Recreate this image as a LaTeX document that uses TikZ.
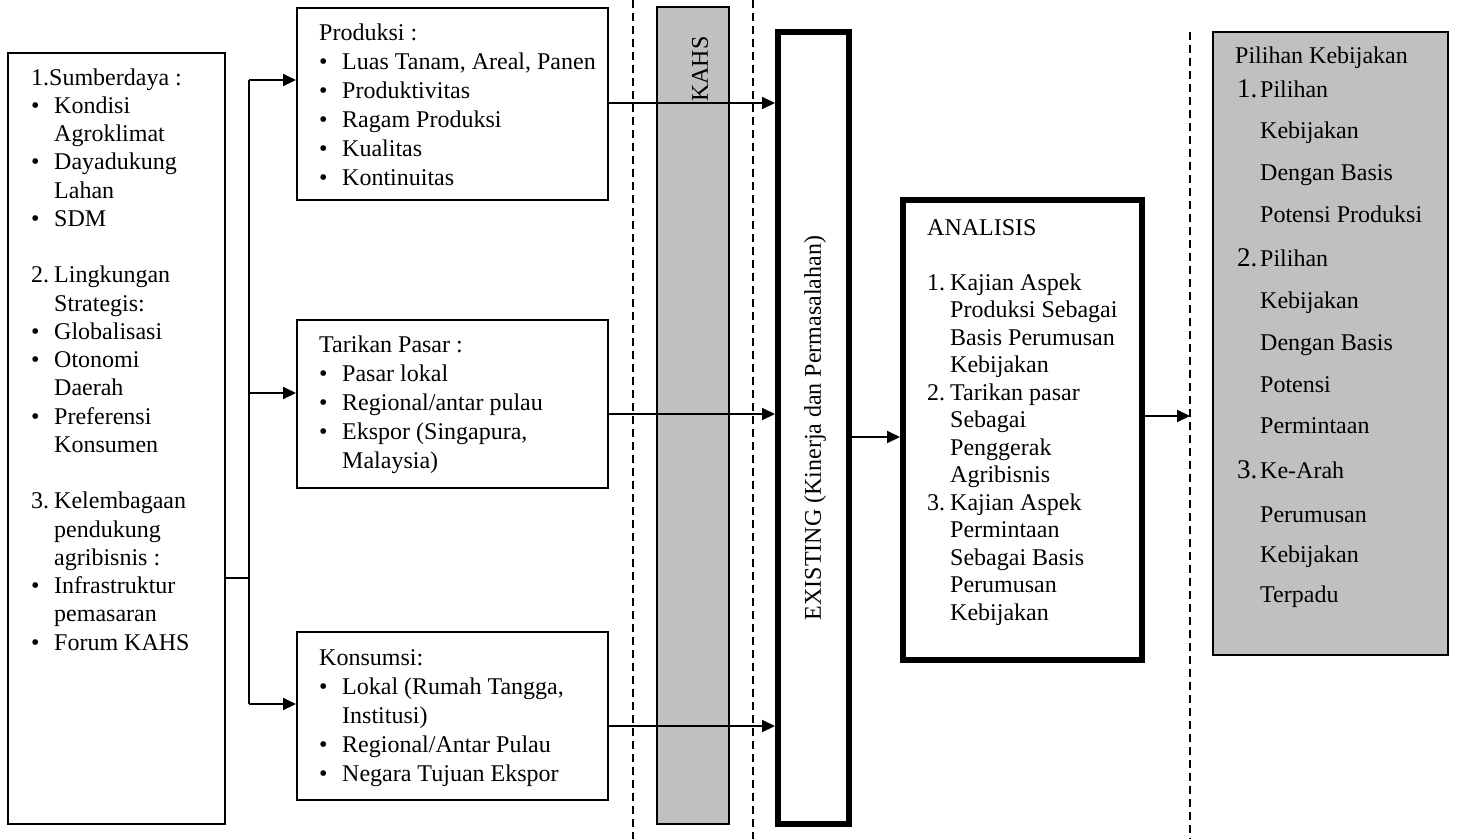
\documentclass[tikz,border=0pt]{standalone}
\usepackage{fontspec}
\setmainfont{Liberation Serif}
\usetikzlibrary{arrows.meta}
\definecolor{boxgray}{RGB}{192,192,192}
\newcommand\fs{\fontsize{24}{28}\selectfont}
\newcommand\lab[1]{\makebox[23pt][l]{#1}}
\newcommand\bul{\lab{\textbullet}}
\newcommand\bignum[1]{\makebox[23pt][l]{\fontsize{27}{28}\selectfont #1}}
\begin{document}
\begin{tikzpicture}[x=1pt,y=-1pt, font=\fs,
  box/.style={draw, line width=2pt, inner sep=0pt},
  thickbox/.style={draw, line width=6pt, inner sep=0pt},
  txt/.style={anchor=base west, inner sep=0pt},
  arr/.style={line width=2pt, -{Triangle[length=13pt,width=12pt]}},
  ln/.style={line width=2pt},
  dashline/.style={line width=2pt, dash pattern=on 8pt off 5pt}]
\useasboundingbox (0,0) rectangle (1460,839);

% dashed separators
\coordinate (d1t) at (633,0);   \coordinate (d1b) at (633,839);
\coordinate (d2t) at (753,0);   \coordinate (d2b) at (753,839);
\coordinate (d3t) at (1190,32); \coordinate (d3b) at (1190,839);
\draw[dashline] (d1t) -- (d1b);
\draw[dashline] (d2t) -- (d2b);
\draw[dashline] (d3t) -- (d3b);

% boxes
\node[box, minimum width=217pt, minimum height=771pt] (left) at (116.5,438.5) {};
\node[box, minimum width=311pt, minimum height=192pt] (prod) at (452.5,104) {};
\node[box, minimum width=311pt, minimum height=168pt] (tar)  at (452.5,404) {};
\node[box, minimum width=311pt, minimum height=168pt] (kon)  at (452.5,716) {};
\node[box, fill=boxgray, minimum width=72pt, minimum height=817pt] (kahs) at (693,415.5) {};
\node[thickbox, minimum width=71pt, minimum height=792pt] (exist) at (813.5,428) {};
\node[thickbox, minimum width=239pt, minimum height=460pt] (anal) at (1022.5,430) {};
\node[box, fill=boxgray, minimum width=235pt, minimum height=623pt] (pil) at (1330.5,343.5) {};

% rotated labels
\node[rotate=90, inner sep=0pt] (kahslab) at (700,69) {KAHS};
\node[rotate=90, inner sep=0pt] (existlab) at (815,428) {EXISTING (Kinerja dan Permasalahan)};

% left box text
\foreach \k/\t in {0/{1.Sumberdaya :},1/{\bul Kondisi},2/{\lab{}Agroklimat},3/{\bul Dayadukung},4/{\lab{}Lahan},5/{\bul SDM},
  7/{\lab{2.}Lingkungan},8/{\lab{}Strategis:},9/{\bul Globalisasi},10/{\bul Otonomi},11/{\lab{}Daerah},12/{\bul Preferensi},13/{\lab{}Konsumen},
  15/{\lab{3.}Kelembagaan},16/{\lab{}pendukung},17/{\lab{}agribisnis :},18/{\bul Infrastruktur},19/{\lab{}pemasaran},20/{\bul Forum KAHS}}
  \node[txt] (L\k) at (31,85+28.25*\k) {\t};

% produksi text
\foreach \t [count=\i from 0] in {{Produksi :},{\bul Luas Tanam, Areal, Panen},{\bul Produktivitas},{\bul Ragam Produksi},{\bul Kualitas},{\bul Kontinuitas}}
  \node[txt] (P\i) at (319,40+29*\i) {\t};

% tarikan text
\foreach \t [count=\i from 0] in {{Tarikan Pasar :},{\bul Pasar lokal},{\bul Regional/antar pulau},{\bul Ekspor (Singapura,},{\lab{}Malaysia)}}
  \node[txt] (T\i) at (319,352+29*\i) {\t};

% konsumsi text
\foreach \t [count=\i from 0] in {{Konsumsi:},{\bul Lokal (Rumah Tangga,},{\lab{}Institusi)},{\bul Regional/Antar Pulau},{\bul Negara Tujuan Ekspor}}
  \node[txt] (K\i) at (319,665+29*\i) {\t};

% analisis text
\node[txt] (A0) at (927,235) {ANALISIS};
\foreach \t [count=\i] in {{\lab{1.}Kajian Aspek},{\lab{}Produksi Sebagai},{\lab{}Basis Perumusan},{\lab{}Kebijakan},
  {\lab{2.}Tarikan pasar},{\lab{}Sebagai},{\lab{}Penggerak},{\lab{}Agribisnis},
  {\lab{3.}Kajian Aspek},{\lab{}Permintaan},{\lab{}Sebagai Basis},{\lab{}Perumusan},{\lab{}Kebijakan}}
  \node[txt] (A\i) at (927,262.5+27.5*\i) {\t};

% pilihan text
\node[txt] (Q0) at (1235,63) {Pilihan Kebijakan};
\foreach \y/\t [count=\i] in {97/{\bignum{1.}Pilihan},138/{\lab{}Kebijakan},180/{\lab{}Dengan Basis},222/{\lab{}Potensi Produksi},
  266/{\bignum{2.}Pilihan},308/{\lab{}Kebijakan},350/{\lab{}Dengan Basis},392/{\lab{}Potensi},433/{\lab{}Permintaan},
  478/{\bignum{3.}Ke-Arah},522/{\lab{}Perumusan},562/{\lab{}Kebijakan},602/{\lab{}Terpadu}}
  \node[txt] (Q\i) at (1237,\y) {\t};

% connectors from left box
\coordinate (jm) at (249,578);
\coordinate (jt) at (249,80);
\coordinate (jc) at (249,393);
\coordinate (jb) at (249,704);
\draw[ln] (left.east |- jm) -- (jm);
\draw[ln] (jt) -- (jb);
\draw[arr] (jt) -- (jt -| prod.west);
\draw[arr] (jc) -- (jc -| tar.west);
\draw[arr] (jb) -- (jb -| kon.west);

% to EXISTING
\draw[arr] ([yshift=1pt]prod.east) -- ([yshift=1pt]prod.east -| exist.west);
\draw[arr] ([yshift=-10pt]tar.east) -- ([yshift=-10pt]tar.east -| exist.west);
\draw[arr] ([yshift=-10pt]kon.east) -- ([yshift=-10pt]kon.east -| exist.west);

% EXISTING -> ANALISIS -> policy
\draw[arr] ([yshift=-9pt]exist.east) -- ([yshift=-9pt]exist.east -| anal.west);
\coordinate (pt) at (1190,416);
\draw[arr] (anal.east |- pt) -- (pt);
\end{tikzpicture}
\end{document}
